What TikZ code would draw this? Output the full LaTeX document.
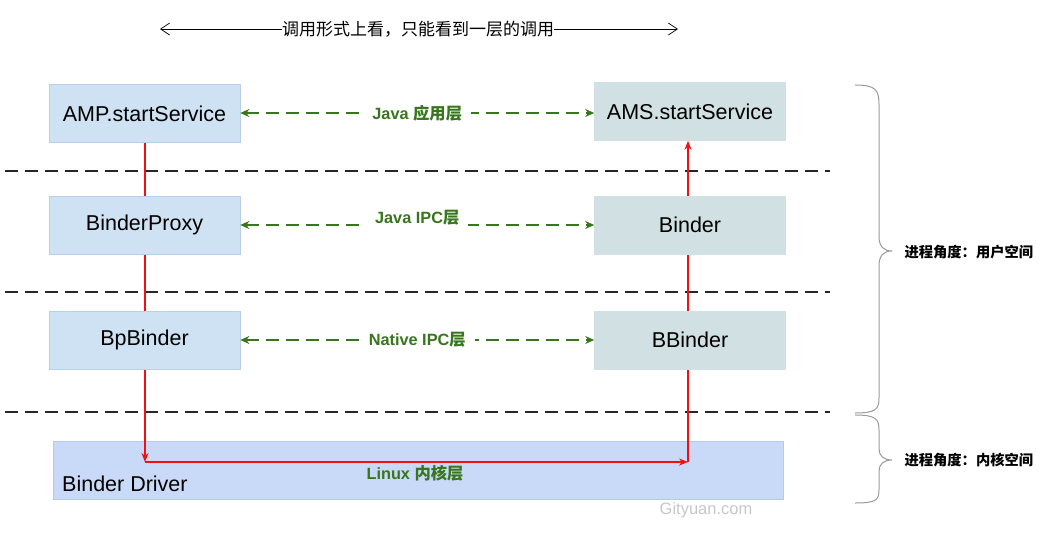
\documentclass[tikz,border=0pt]{standalone}
\usepackage{fontspec}
\setmainfont{Liberation Sans}
\newfontfamily\cjk{Noto Sans CJK SC}
\usetikzlibrary{arrows.meta}

\definecolor{leftfill}{HTML}{CFE2F3}
\definecolor{leftline}{HTML}{B7CFEA}
\definecolor{rightfill}{HTML}{D0E0E3}
\definecolor{drvfill}{HTML}{C9DAF8}
\definecolor{drvline}{HTML}{B4C9EE}
\definecolor{layergreen}{HTML}{38761D}
\definecolor{callred}{HTML}{F01010}

\newcommand{\zh}[1]{{\cjk #1}}

\pgfdeclarelayer{back}
\pgfdeclarelayer{mid}
\pgfsetlayers{back,mid,main}

\tikzset{
  lbox/.style = {draw = leftline, fill = leftfill, line width = 0.6pt, inner sep = 0pt,
                 minimum width = 191pt, minimum height = 58pt, font = \fontsize{21.5}{24}\selectfont},
  rbox/.style = {lbox, draw = rightfill, fill = rightfill},
  divider/.style = {line width = 2pt, black!85, dash pattern = on 13pt off 7pt},
  ipc/.style = {line width = 1.8pt, layergreen, dash pattern = on 13pt off 7pt,
                {Stealth[length = 9pt, width = 8pt]}-{Stealth[length = 9pt, width = 8pt]}},
  tag/.style = {fill = white, inner xsep = 9pt, text = layergreen, font = \fontsize{16.3}{18}\bfseries},
  flow/.style = {line width = 1.3pt, callred, -{Stealth[length = 9pt, width = 7pt]}},
  brace/.style = {line width = 1pt, black!40},
  side/.style = {anchor = west, font = \fontsize{14.3}{16}\cjk\bfseries}
}

\begin{document}
\begin{tikzpicture}[x = 1pt, y = -1pt]

\useasboundingbox (0, 0) rectangle (1063, 550);

% call line on top
\coordinate (ta) at (160, 29);
\coordinate (tb) at (678, 29);
\draw [line width = 0.7pt, {Straight Barb[length = 9pt, width = 12pt]}-{Straight Barb[length = 9pt, width = 12pt]}] (ta) -- (tb);
\node [fill = white, inner sep = 0pt, font = \fontsize{17}{19}\cjk] (title) at (418, 29) {调用形式上看，只能看到一层的调用};

% layer dividers
\begin{pgfonlayer}{back}
\draw [divider] (5, 171) -- (830, 171);
\draw [divider] (5, 292) -- (830, 292);
\draw [divider] (5, 412) -- (830, 412);
\node [draw = drvline, fill = drvfill, line width = 0.6pt, minimum width = 730pt, minimum height = 58pt] (drv) at (418, 470) {};
\end{pgfonlayer}

% client side
\node [lbox] (AMP) at (144.5, 113.5) {AMP.startService};
\node [lbox] (proxy) at (144.5, 225) {BinderProxy};
\node [lbox] (bp) at (144.5, 340) {BpBinder};

% server side
\node [rbox] (AMS) at (690, 111.5) {AMS.startService};
\node [rbox] (binder) at (690, 225) {Binder};
\node [rbox] (bb) at (690, 340) {BBinder};

% kernel
\node [anchor = base west, inner sep = 0pt, font = \fontsize{21.5}{24}\selectfont] (drvtxt) at (62, 491) {Binder Driver};
\node [text = layergreen, font = \fontsize{16.3}{18}\bfseries] (linux) at (415, 473) {Linux \zh{内核层}};
\node [text = black!22, font = \fontsize{16.5}{18}\selectfont] (mark) at (706, 510) {Gityuan.com};

% same layer calls
\draw [ipc] (AMP.east |- 0, 113) -- node [tag] {Java \zh{应用层}} (AMS.west |- 0, 113);
\draw [ipc] (proxy) -- node [tag, yshift = 7pt] {Java IPC\zh{层}} (binder);
\draw [ipc] (bp) -- node [tag] {Native IPC\zh{层}} (bb);

% real path through the driver
\coordinate (kin) at (145, 462);
\coordinate (kout) at (688, 462);
\begin{pgfonlayer}{mid}
\draw [flow] (AMP.south -| kin) -- (kin);
\draw [flow] (kin) -- (kout);
\draw [flow] (kout) -- (kout |- AMS.south);
\end{pgfonlayer}

% process view
\draw [brace] (855, 85) .. controls (876, 85) and (879, 90) .. (879, 105) -- (879, 236)
  .. controls (879, 247) and (884, 251) .. (892, 251) .. controls (884, 251) and (879, 255) .. (879, 266)
  -- (879, 398) .. controls (879, 409) and (876, 413) .. (855, 413);
\draw [brace] (855, 415) .. controls (876, 415) and (879, 419) .. (879, 430) -- (879, 449)
  .. controls (879, 456) and (884, 460) .. (892, 460) .. controls (884, 460) and (879, 464) .. (879, 471)
  -- (879, 490) .. controls (879, 500) and (876, 503) .. (855, 503);
\node [side] (user) at (901, 252) {进程角度：用户空间};
\node [side] (kernel) at (901, 460) {进程角度：内核空间};

\end{tikzpicture}
\end{document}
